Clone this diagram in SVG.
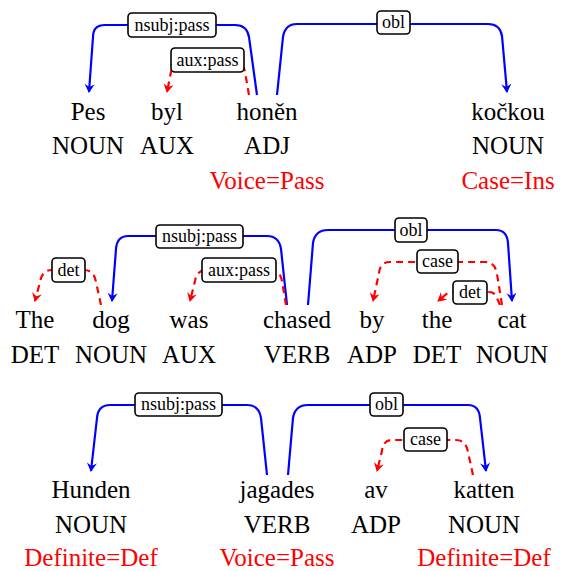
<svg xmlns="http://www.w3.org/2000/svg" width="562" height="571" viewBox="0 0 562 571">
<style>
.w{font-size:25px;text-anchor:middle;fill:#000}
.f{font-size:25px;text-anchor:middle;fill:#ff0000}
.lt{font-size:18px;text-anchor:middle;fill:#000}
.lb{fill:#fff;stroke:#000;stroke-width:1.6}
.b{fill:none;stroke:#0000ff;stroke-width:2.2;marker-end:url(#ab)}
.r{fill:none;stroke:#ff0000;stroke-width:2.2;stroke-dasharray:7,5;marker-end:url(#ar)}
</style>
<defs>
<marker id="ab" markerUnits="userSpaceOnUse" orient="auto" markerWidth="12" markerHeight="12" refX="0" refY="0" viewBox="-10 -6 12 12" overflow="visible"><path d="M1,0 L-8,-5 L-5,0 L-8,5 z" fill="#0000ff"/></marker>
<marker id="ar" markerUnits="userSpaceOnUse" orient="auto" markerWidth="12" markerHeight="12" refX="0" refY="0" viewBox="-10 -6 12 12" overflow="visible"><path d="M1,0 L-8,-5 L-5,0 L-8,5 z" fill="#ff0000"/></marker>
</defs>

<g font-family="'Liberation Serif', 'Tinos', 'Times', 'DejaVu Serif', serif">
<g id="connectors">
<path class="b" d="M257,95 L249,37 Q247,25 235,25 L105,25 Q93,25 93,37 L89,92"/>
<path class="r" d="M249,95 L245,72 Q243,60 231,60 L183,60 Q173,60 171,72 L167,92"/>
<path class="b" d="M277,95 L283,37 Q285,24 297,24 L488,24 Q500,24 502,36 L507,92"/>
<path class="r" d="M101,305 L96,282 Q94,270 84,270 L52,270 Q42,270 40,282 L35,301"/>
<path class="b" d="M287,305 L281,249 Q279,236 267,236 L128,236 Q117,236 116,249 L112,301"/>
<path class="r" d="M286,305 L282,281 Q280,270 270,270 L206,270 Q197,270 195,281 L190,301"/>
<path class="b" d="M308,305 L313,243 Q315,230 328,230 L496,230 Q507,230 508,243 L512,301"/>
<path class="r" d="M502,305 L497,274 Q495,262 485,262 L390,262 Q380,262 379,273 L373,301"/>
<path class="r" d="M500,305 L497,298 Q495,292 489,292 L455,292 Q448,292 444,296 L438,301"/>
<path class="b" d="M267,475 L261,418 Q259,405 247,405 L110,405 Q98,405 97,418 L91,471"/>
<path class="b" d="M288,475 L293,418 Q295,405 308,405 L468,405 Q479,405 480,418 L486,471"/>
<path class="r" d="M473,475 L468,452 Q466,440 456,440 L392,440 Q383,440 382,451 L377,471"/>

<g><rect class="lb" x="128" y="13" width="88" height="24" rx="4"/><text class="lt" x="172" y="31">nsubj:pass</text></g>
<g><rect class="lb" x="171" y="48" width="73" height="24" rx="4"/><text class="lt" x="207.5" y="66">aux:pass</text></g>
<g><rect class="lb" x="377" y="11" width="33" height="23" rx="4"/><text class="lt" x="393.5" y="28">obl</text></g>

<g><rect class="lb" x="52" y="258" width="33" height="24" rx="4"/><text class="lt" x="68.5" y="276">det</text></g>
<g><rect class="lb" x="156" y="225" width="87" height="23" rx="4"/><text class="lt" x="199.5" y="242">nsubj:pass</text></g>
<g><rect class="lb" x="202" y="258" width="74" height="24" rx="4"/><text class="lt" x="239" y="276">aux:pass</text></g>
<g><rect class="lb" x="395" y="218" width="32" height="24" rx="4"/><text class="lt" x="411" y="236">obl</text></g>
<g><rect class="lb" x="417" y="250" width="41" height="23" rx="4"/><text class="lt" x="437.5" y="267">case</text></g>
<g><rect class="lb" x="453" y="281" width="34" height="23" rx="4"/><text class="lt" x="470" y="298">det</text></g>

<g><rect class="lb" x="135" y="393" width="87" height="23" rx="4"/><text class="lt" x="178.5" y="410">nsubj:pass</text></g>
<g><rect class="lb" x="370" y="393" width="33" height="23" rx="4"/><text class="lt" x="386.5" y="410">obl</text></g>
<g><rect class="lb" x="404" y="428" width="43" height="23" rx="4"/><text class="lt" x="425.5" y="445">case</text></g>
</g>

<g id="n1_Pes"><text class="w" x="88" y="120">Pes</text><text class="w" x="88" y="154">NOUN</text></g>
<g id="n1_byl"><text class="w" x="167" y="120">byl</text><text class="w" x="167" y="154">AUX</text></g>
<g id="n1_honen"><text class="w" x="267" y="120">honěn</text><text class="w" x="267" y="154">ADJ</text><text class="f" x="267" y="189">Voice=Pass</text></g>
<g id="n1_kockou"><text class="w" x="508" y="120">kočkou</text><text class="w" x="508" y="154">NOUN</text><text class="f" x="508" y="189">Case=Ins</text></g>

<g id="n2_The"><text class="w" x="35" y="328">The</text><text class="w" x="35" y="363">DET</text></g>
<g id="n2_dog"><text class="w" x="111" y="328">dog</text><text class="w" x="111" y="363">NOUN</text></g>
<g id="n2_was"><text class="w" x="189" y="328">was</text><text class="w" x="189" y="363">AUX</text></g>
<g id="n2_chased"><text class="w" x="297" y="328">chased</text><text class="w" x="297" y="363">VERB</text></g>
<g id="n2_by"><text class="w" x="372" y="328">by</text><text class="w" x="372" y="363">ADP</text></g>
<g id="n2_the"><text class="w" x="437" y="328">the</text><text class="w" x="437" y="363">DET</text></g>
<g id="n2_cat"><text class="w" x="512" y="328">cat</text><text class="w" x="512" y="363">NOUN</text></g>

<g id="n3_Hunden"><text class="w" x="91" y="498">Hunden</text><text class="w" x="91" y="533">NOUN</text><text class="f" x="91" y="566">Definite=Def</text></g>
<g id="n3_jagades"><text class="w" x="277" y="498">jagades</text><text class="w" x="277" y="533">VERB</text><text class="f" x="277" y="566">Voice=Pass</text></g>
<g id="n3_av"><text class="w" x="376" y="498">av</text><text class="w" x="376" y="533">ADP</text></g>
<g id="n3_katten"><text class="w" x="484" y="498">katten</text><text class="w" x="484" y="533">NOUN</text><text class="f" x="484" y="566">Definite=Def</text></g>
</g>
</svg>
